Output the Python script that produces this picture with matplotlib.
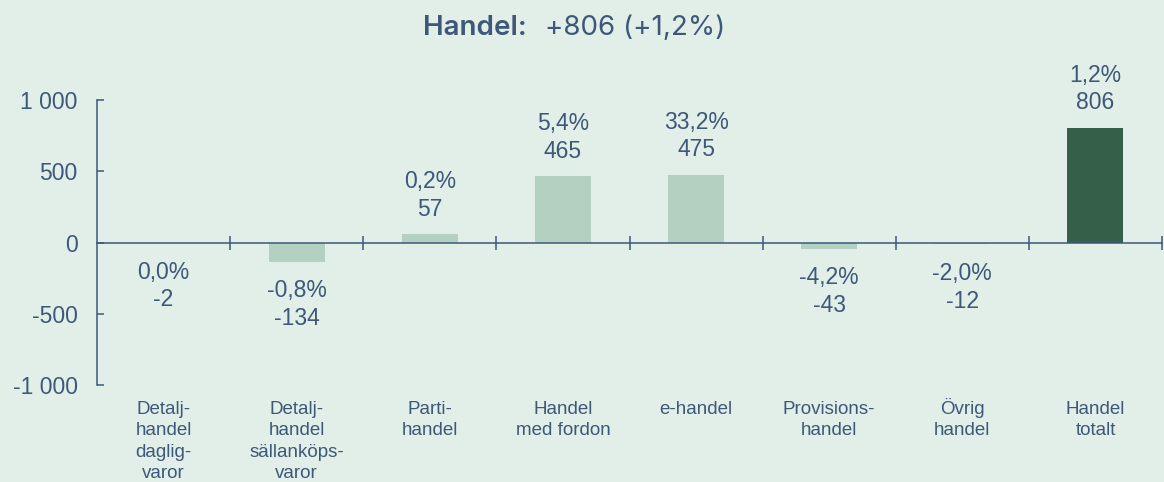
import matplotlib
matplotlib.use("Agg")
import matplotlib.pyplot as plt
import matplotlib.transforms as mtransforms
import numpy as np

categories = ["Detalj-\nhandel\ndaglig-\nvaror", "Detalj-\nhandel\nsällanköps-\nvaror",
              "Parti-\nhandel", "Handel\nmed fordon", "e-handel",
              "Provisions-\nhandel", "Övrig\nhandel", "Handel\ntotalt"]
values = [-2, -134, 57, 465, 475, -43, -12, 806]
pct_labels = ["0,0%", "-0,8%", "0,2%", "5,4%", "33,2%", "-4,2%", "-2,0%", "1,2%"]
yticks = [-1000, -500, 0, 500, 1000]
ytick_labels = ["-1 000", "-500", "0", "500", "1 000"]

BG = "#E2EEE8"
LIGHT = "#B3D1C0"
DARK = "#365F4A"
TXT = "#3D5878"

fig = plt.figure(figsize=(11.64, 4.82), dpi=100, facecolor=BG)
ax = fig.add_axes([97/1164, 1-385/482, (1162-97)/1164, (385-100)/482])
ax.set_facecolor(BG)

x = np.arange(len(categories))
colors = [LIGHT]*(len(values)-1) + [DARK]
ax.bar(x, values, width=0.42, color=colors, zorder=2)

ax.set_xlim(-0.5, len(categories)-0.5)
ax.set_ylim(-1000, 1000)

for s in ["top", "right"]:
    ax.spines[s].set_visible(False)
ax.spines["left"].set_color(TXT)
ax.spines["left"].set_linewidth(1.1)
ax.spines["bottom"].set_position(("data", 0))
ax.spines["bottom"].set_color(TXT)
ax.spines["bottom"].set_linewidth(1.1)
ax.spines["bottom"].set_zorder(3)

ax.set_yticks(yticks)
ax.set_yticklabels(ytick_labels, fontsize=16.5, color=TXT, family="Liberation Sans")
ax.tick_params(axis="y", direction="in", length=5, width=1.1, color=TXT, pad=14)

ax.set_xticks(x)
ax.set_xticklabels([])
ax.tick_params(axis="x", which="major", length=0)
ax.set_xticks(np.arange(0.5, len(categories)), minor=True)
ax.tick_params(axis="x", which="minor", direction="inout", length=10, width=1.1, color=TXT)

trans = mtransforms.blended_transform_factory(ax.transData, ax.transAxes)
for xi, cat in zip(x, categories):
    for i, line in enumerate(cat.split("\n")):
        ax.annotate(line, (xi, 0), xycoords=trans, xytext=(0, -21 - 15.3*i),
                    textcoords="offset points", ha="center", va="baseline",
                    fontsize=13.5, color=TXT, family="Liberation Sans",
                    annotation_clip=False)

for xi, v, p in zip(x, values, pct_labels):
    off = 28 if v > 0 else -31
    ax.annotate(f"{p}\n{v}", (xi, v), xytext=(0, off), textcoords="offset points",
                ha="center", va="center", fontsize=16.5, color=TXT,
                family="Liberation Sans", linespacing=1.25)

fig.text(527/1164, 1-28/482, "Handel:", ha="right", va="center", fontsize=20,
         fontweight="semibold", color=TXT, family="Inter")
fig.text(545/1164, 1-28/482, "+806 (+1,2%)", ha="left", va="center", fontsize=20,
         color=TXT, family="Inter")

fig.savefig("out.png", dpi=100, facecolor=BG)
